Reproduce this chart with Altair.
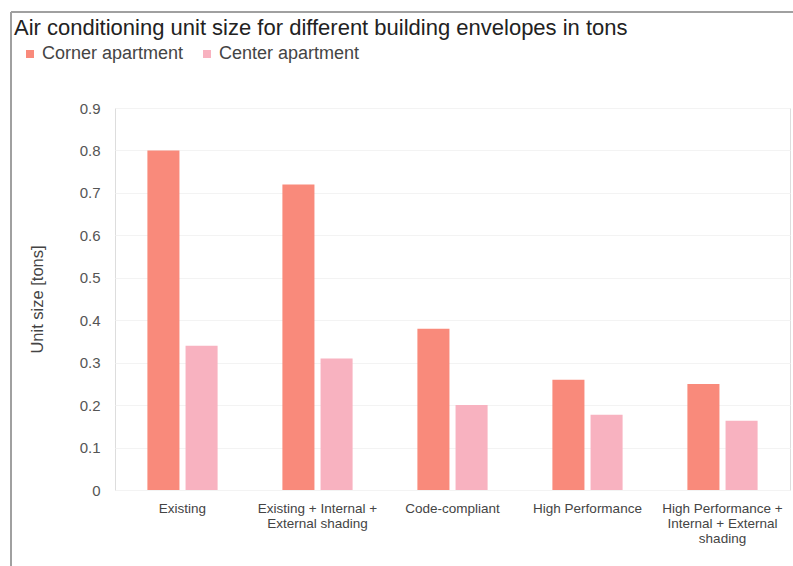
import altair as alt
import pandas as pd

categories = [
    "Existing",
    "Existing + Internal + External shading",
    "Code-compliant",
    "High Performance",
    "High Performance + Internal + External shading",
]
series = ["Corner apartment", "Center apartment"]
corner = [0.80, 0.72, 0.38, 0.26, 0.25]
center = [0.34, 0.31, 0.20, 0.177, 0.163]
colors = ["#F98A7B", "#F8B2C0"]
y_ticks = [0, 0.1, 0.2, 0.3, 0.4, 0.5, 0.6, 0.7, 0.8, 0.9]

rows = []
for c, a, b in zip(categories, corner, center):
    rows.append({"category": c, "series": series[0], "value": a})
    rows.append({"category": c, "series": series[1], "value": b})
df = pd.DataFrame(rows)

font = "Liberation Sans"

label_expr = (
    "datum.value == 'Existing + Internal + External shading' ? ['Existing + Internal +', 'External shading'] : "
    "datum.value == 'High Performance + Internal + External shading' ? ['High Performance +', 'Internal + External', 'shading'] : "
    "datum.value"
)

bars = alt.Chart(df).mark_bar().encode(
    x=alt.X(
        "category:N",
        sort=categories,
        scale=alt.Scale(paddingInner=0.48, paddingOuter=0.24),
        axis=alt.Axis(
            title=None, labelAngle=0, domain=False, ticks=False,
            labelExpr=label_expr, labelFont=font, labelFontSize=13.5,
            labelColor="#444444", labelPadding=11, labelLineHeight=15,
            labelBaseline="top",
        ),
    ),
    xOffset=alt.XOffset("series:N", sort=series, scale=alt.Scale(paddingInner=0.16)),
    y=alt.Y(
        "value:Q",
        scale=alt.Scale(domain=[0, 0.9], nice=False),
        axis=alt.Axis(
            title="Unit size [tons]", values=y_ticks, format="~g",
            domain=False, ticks=False, labelFont=font, labelFontSize=15,
            labelColor="#555555", labelPadding=15, titleFont=font,
            titleFontSize=16.5, titleFontWeight="normal", titleColor="#444444",
            titlePadding=34, gridColor="#F3F3F3",
        ),
    ),
    color=alt.Color(
        "series:N", sort=series,
        scale=alt.Scale(domain=series, range=colors),
        legend=alt.Legend(
            title=None, orient="none", direction="horizontal",
            legendX=-94, legendY=-63, symbolType="square", symbolSize=64,
            labelFont=font, labelFontSize=18, labelColor="#444444",
            columnPadding=14, symbolOffset=0, labelOffset=3,
        ),
    ),
)

frame_top = alt.Chart(df).mark_rule(color="#A0A0A0", strokeWidth=2).encode(
    x=alt.value(-104), x2=alt.value(690), y=alt.value(-96)
)
frame_left = alt.Chart(df).mark_rule(color="#A0A0A0", strokeWidth=2).encode(
    x=alt.value(-104), y=alt.value(-96), y2=alt.value(470)
)

chart = alt.layer(bars, frame_top, frame_left).properties(
    width=675,
    height=382,
    title=alt.TitleParams(
        "Air conditioning unit size for different building envelopes in tons",
        anchor="start", frame="group", dx=-101, dy=43, font=font, fontSize=22,
        fontWeight="normal", color="#222222", offset=14,
    ),
    autosize=alt.AutoSizeParams(type="none"),
    padding={"left": 115, "top": 108, "right": 3, "bottom": 76},
).configure_view(stroke=None).configure(background="white")

chart.save("out.html", embed_options={"renderer": "svg", "actions": False})
